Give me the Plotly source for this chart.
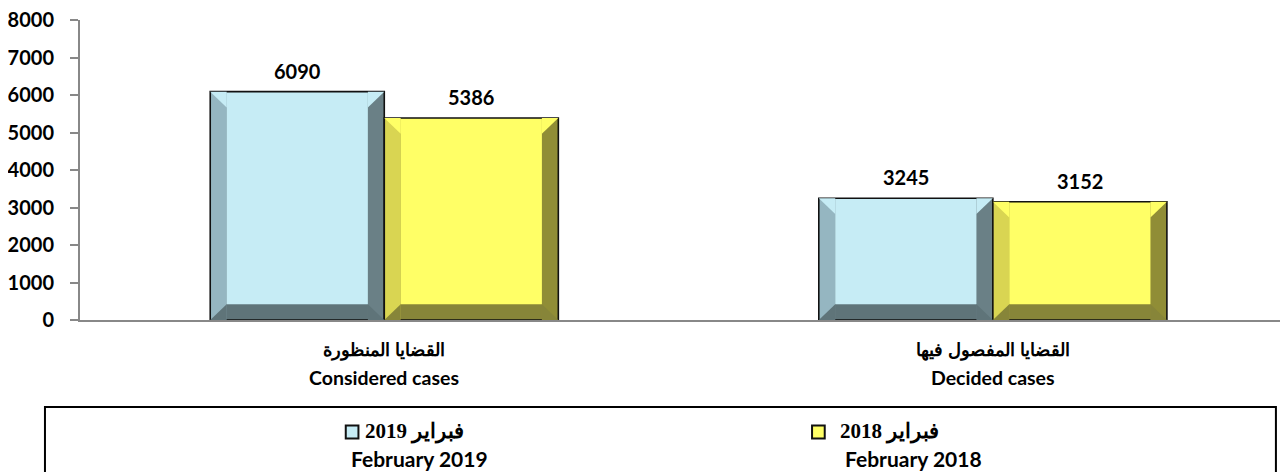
import plotly.graph_objects as go

# ---- data ----
cat_ar = ["القضايا المنظورة", "القضايا المفصول فيها"]
cat_en = ["Considered cases", "Decided cases"]
vals_2019 = [6090, 3245]
vals_2018 = [5386, 3152]
series_ar = ["فبراير 2019", "فبراير 2018"]
series_en = ["February 2019", "February 2018"]
y_ticks = [0, 1000, 2000, 3000, 4000, 5000, 6000, 7000, 8000]

x_idx = list(range(len(cat_en)))

W = 0.286      # bar width in category units
BX = 0.027     # horizontal bevel width
BY = 420       # vertical bevel height (data units)

styles = [
    dict(vals=vals_2019, off=-W, face="#c6ecf5", left="#95b6c1", right="#6a8086", bottom="#5f7479"),
    dict(vals=vals_2018, off=0.0, face="#ffff66", left="#d9d552", right="#908d36", bottom="#878539"),
]

fig = go.Figure()
for s in styles:
    v = s["vals"]
    fig.add_trace(go.Bar(x=x_idx, y=v, offset=s["off"], width=W, marker_color=s["right"],
                         marker_line_width=0, showlegend=False, hoverinfo="skip"))
    fig.add_trace(go.Bar(x=x_idx, y=v, offset=s["off"], width=BX, marker_color=s["left"],
                         marker_line_width=0, showlegend=False, hoverinfo="skip"))
    fig.add_trace(go.Bar(x=x_idx, y=[BY] * len(v), offset=s["off"] + BX, width=W - 2 * BX,
                         marker_color=s["bottom"], marker_line_width=0, showlegend=False, hoverinfo="skip"))
    fig.add_trace(go.Bar(x=x_idx, y=[val - BY for val in v], base=[BY] * len(v),
                         offset=s["off"] + BX, width=W - 2 * BX,
                         marker_color=s["face"], marker_line_width=0, showlegend=False, hoverinfo="skip"))
    for i, val in enumerate(v):
        x0 = i + s["off"]
        x1 = x0 + W
        fig.add_trace(go.Scatter(x=[x0, x0 + BX, x0 + BX, x0], y=[0, BY, 0, 0], fill="toself",
                                 fillcolor=s["bottom"], line_width=0, mode="lines",
                                 showlegend=False, hoverinfo="skip"))
        fig.add_trace(go.Scatter(x=[x1, x1 - BX, x1 - BX, x1], y=[0, BY, 0, 0], fill="toself",
                                 fillcolor=s["bottom"], line_width=0, mode="lines",
                                 showlegend=False, hoverinfo="skip"))
        fig.add_trace(go.Scatter(x=[x0, x0 + BX, x0 + BX, x0], y=[val, val - BY, val, val], fill="toself",
                                 fillcolor=s["face"], line_width=0, mode="lines",
                                 showlegend=False, hoverinfo="skip"))
        fig.add_trace(go.Scatter(x=[x1, x1 - BX, x1 - BX, x1], y=[val, val - BY, val, val], fill="toself",
                                 fillcolor=s["face"], line_width=0, mode="lines",
                                 showlegend=False, hoverinfo="skip"))
    fig.add_trace(go.Bar(x=x_idx, y=v, offset=s["off"], width=W, marker_color="rgba(0,0,0,0)",
                         marker_line_color="#111111", marker_line_width=1.6,
                         showlegend=False, hoverinfo="skip"))

LATIN = "Lato, Open Sans, sans-serif"

# value labels
for s in styles:
    for i, val in enumerate(s["vals"]):
        fig.add_annotation(x=i + s["off"] + W / 2, y=val, text=f"<b>{val}</b>", showarrow=False,
                           yanchor="bottom", yshift=7,
                           font=dict(family=LATIN, size=20, color="#000"))

# category labels
for i in x_idx:
    fig.add_annotation(x=i, y=-0.10, yref="paper", text=f"<b>{cat_ar[i]}</b>", showarrow=False,
                       yanchor="middle", font=dict(family="Liberation Sans, Arial", size=18, color="#000"))
    fig.add_annotation(x=i, y=-0.193, yref="paper", text=f"<b>{cat_en[i]}</b>", showarrow=False,
                       yanchor="middle", font=dict(family=LATIN, size=19.5, color="#000"))

# legend box
fig.add_shape(type="rect", xref="paper", yref="paper", x0=-0.029, x1=0.990, y0=-0.65, y1=-0.29,
              line=dict(color="#000", width=2), fillcolor="rgba(0,0,0,0)")

sq_x0 = [0.220, 0.606]
ar_cx = [0.277, 0.670]
en_cx = [0.281, 0.690]
for k, s in enumerate(styles):
    fig.add_shape(type="rect", xref="paper", yref="paper", x0=sq_x0[k], x1=sq_x0[k] + 0.0105,
                  y0=-0.395, y1=-0.352, line=dict(color="#111", width=2), fillcolor=s["face"])
    fig.add_annotation(xref="paper", yref="paper", x=ar_cx[k], y=-0.373, text=f"<b>{series_ar[k]}</b>",
                       showarrow=False, xanchor="center", yanchor="middle",
                       font=dict(family="Liberation Serif, Times New Roman", size=21, color="#000"))
    fig.add_annotation(xref="paper", yref="paper", x=en_cx[k], y=-0.51,
                       text=f"<b>{series_en[k]}</b>", showarrow=False, xanchor="center", yanchor="bottom",
                       font=dict(family=LATIN, size=21, color="#000"))

fig.update_layout(
    width=1280, height=464,
    margin=dict(l=72, r=0, t=12, b=152, autoexpand=False),
    barmode="overlay",
    plot_bgcolor="white", paper_bgcolor="white",
    showlegend=False,
)
fig.update_xaxes(range=[-0.5, 1.485], showticklabels=False, showgrid=False, zeroline=False,
                 showline=True, linecolor="#888", linewidth=2, ticks="")
fig.update_yaxes(range=[0, 8000], tickvals=y_ticks, ticktext=[f"<b>{t}</b>" for t in y_ticks],
                 showgrid=False, zeroline=False, showline=True, linecolor="#888", linewidth=2,
                 ticks="outside", ticklen=8, tickcolor="#888", tickwidth=1.5, ticklabelstandoff=12,
                 ticklabeloverflow="allow",
                 tickfont=dict(family=LATIN, size=20, color="#000"))

fig.write_html("out.html")
